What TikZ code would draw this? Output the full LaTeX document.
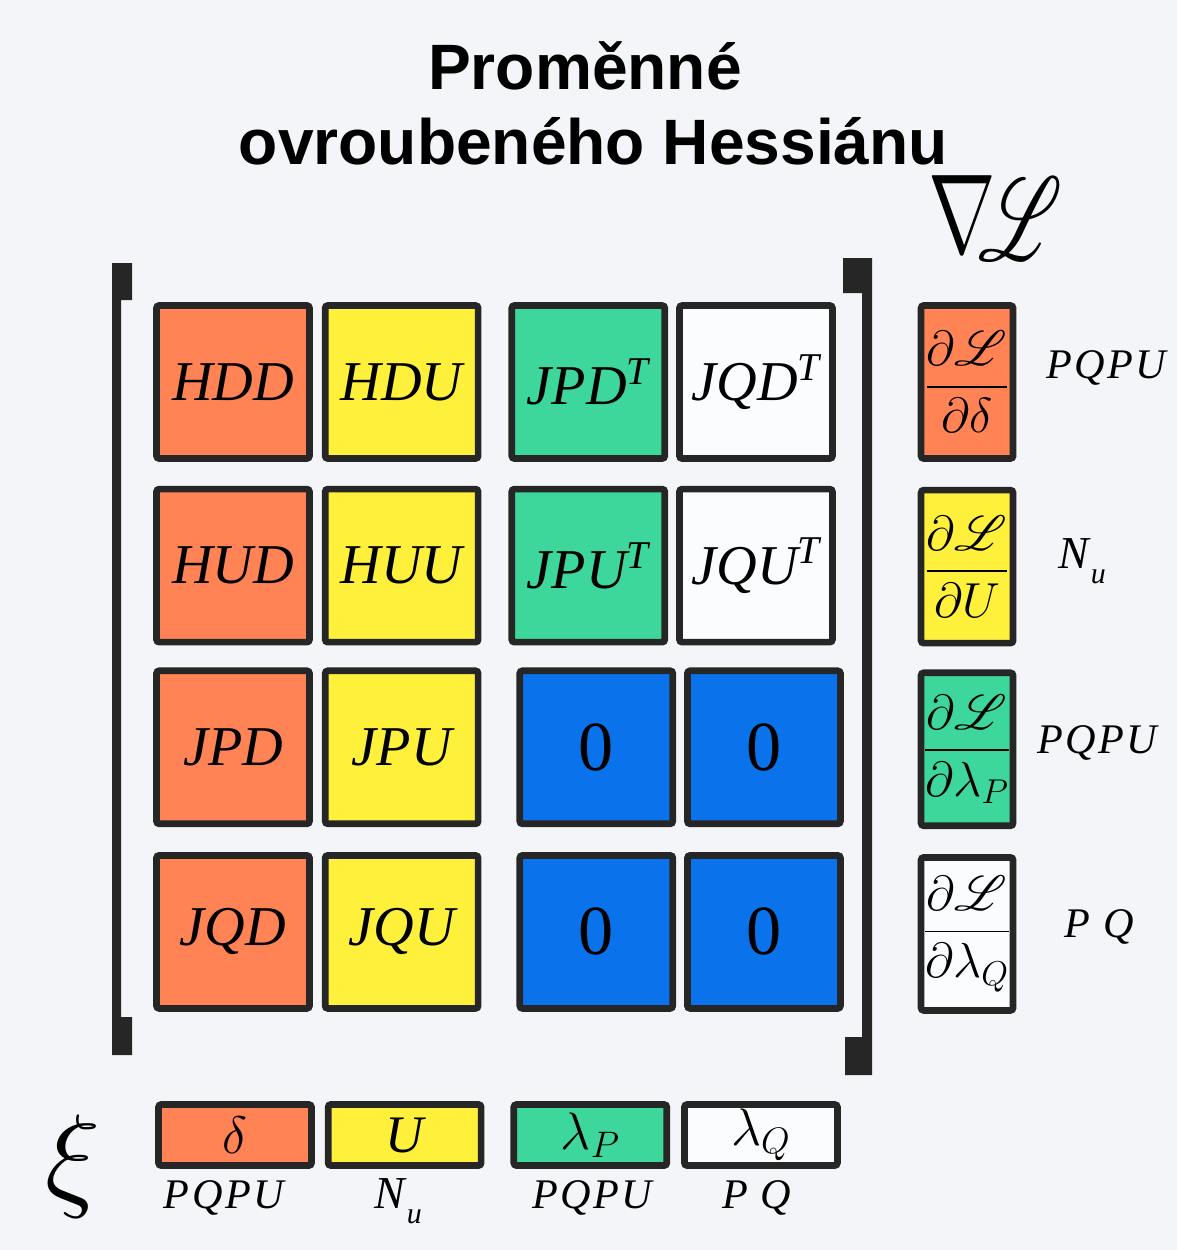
\RequirePackage{fix-cm}
\documentclass[tikz,border=0pt]{standalone}
\usepackage{amsmath}
\usepackage{fontspec}
\setmainfont{Liberation Serif}
\setsansfont{Liberation Sans}
\usepackage{mathrsfs}
\DeclareFontFamily{U}{rsfs}{\skewchar\font127 }
\DeclareFontShape{U}{rsfs}{m}{n}{<-> rsfs10}{}
\usepackage{graphicx}
\usetikzlibrary{positioning}
\usepackage{xcolor}
\definecolor{oranz}{HTML}{FF8354}
\definecolor{zluta}{HTML}{FFF03C}
\definecolor{zelena}{HTML}{3DD69B}
\definecolor{modra}{HTML}{0A73EC}
\definecolor{bila}{HTML}{FBFCFD}
\definecolor{ram}{HTML}{262626}
\definecolor{papir}{HTML}{F3F5F8}
\newcommand{\transp}{\textsuperscript{T}}
\newcommand{\Nsub}{{\fontsize{26}{28}\selectfont N}\kern0.05em\raisebox{-9pt}{\fontsize{17}{17}\selectfont u}}
\newcommand{\PQPU}{P\kern0.06em Q\kern0.06em P\kern0.06em U}

\begin{document}
\begin{tikzpicture}[x=0.02cm,y=-0.02cm,
    blok/.style={draw=ram,line width=3.8pt,rounded corners=1.5pt,inner sep=0pt,minimum width=3.06cm,minimum height=3.06cm,font=\fontsize{32}{36}\selectfont\itshape},
    nula/.style={blok,fill=modra,font=\fontsize{40}{44}\selectfont},
    grad/.style={draw=ram,line width=3.8pt,rounded corners=1.5pt,inner sep=0pt,minimum width=1.84cm,minimum height=3.06cm,font=\fontsize{28}{32}\selectfont},
    prom/.style={draw=ram,line width=3.8pt,rounded corners=1.5pt,inner sep=0pt,minimum width=3.06cm,minimum height=1.22cm,font=\fontsize{30}{32}\selectfont},
    popis/.style={font=\fontsize{24}{26}\selectfont\itshape,anchor=base}]
      \fill[papir] (0,0) rectangle (1177,1250);
      \useasboundingbox (0,0) rectangle (1177,1250);

      % nadpis
      \node[font=\sffamily\bfseries\fontsize{36.5}{40}\selectfont,anchor=base] (nadpis1) at (585,90) {Proměnné};
      \node[font=\sffamily\bfseries\fontsize{36.5}{40}\selectfont,anchor=base] (nadpis2) at (593.5,165) {ovroubeného Hessiánu};

      % zavorky
      \fill[ram] (112,263) -- (132,263) -- (132,300) -- (121,300) -- (121,1017) -- (132,1017) -- (132,1055) -- (112,1055) -- cycle;
      \fill[ram] (872,258) -- (843,258) -- (843,293) -- (862,293) -- (862,1037) -- (845,1037) -- (845,1075) -- (872,1075) -- cycle;

      % ovroubeny Hessian
      \node[blok,fill=oranz] (HDD) at (233,382) {HDD};
      \node[blok,fill=zluta,right=0.18cm of HDD] (HDU) {HDU};
      \node[blok,fill=zelena,right=0.54cm of HDU] (JPDT) {JPD\transp};
      \node[blok,fill=bila,right=0.16cm of JPDT] (JQDT) {JQD\transp};

      \node[blok,fill=oranz,below=0.48cm of HDD] (HUD) {HUD};
      \node[blok,fill=zluta,right=0.18cm of HUD] (HUU) {HUU};
      \node[blok,fill=zelena,right=0.54cm of HUU] (JPUT) {JPU\transp};
      \node[blok,fill=bila,right=0.16cm of JPUT] (JQUT) {JQU\transp};

      \node[blok,fill=oranz,below=0.44cm of HUD] (JPD) {JPD};
      \node[blok,fill=zluta,right=0.18cm of JPD] (JPU) {JPU};
      \node[nula,right=0.7cm of JPU] (N33) {0};
      \node[nula,right=0.16cm of N33] (N34) {0};

      \node[blok,fill=oranz,below=0.5cm of JPD] (JQD) {JQD};
      \node[blok,fill=zluta,right=0.18cm of JQD] (JQU) {JQU};
      \node[nula,right=0.7cm of JQU] (N43) {0};
      \node[nula,right=0.16cm of N43] (N44) {0};

      % gradient
      \node[anchor=base west,inner sep=0pt] (nabla) at (928,253) {\fontsize{64}{64}\selectfont$\scalebox{0.72}[1]{$\nabla$}\kern-10pt\raisebox{-4pt}{\scalebox{0.7}[1.05]{$\mathscr{L}$}}$};
      \node[grad,fill=oranz,right=1.64cm of JQDT] (gD) {$\dfrac{\partial\mathscr{L}}{\partial\delta}$};
      \node[grad,fill=zluta,below=0.5cm of gD] (gU) {$\dfrac{\partial\mathscr{L}}{\partial U}$};
      \node[grad,fill=zelena,below=0.46cm of gU] (gP) {$\dfrac{\partial\mathscr{L}}{\partial\lambda_P}$};
      \node[grad,fill=bila,below=0.5cm of gP] (gQ) {$\dfrac{\partial\mathscr{L}}{\partial\lambda_Q}$};
      \node[popis] (lD) at (1106,378) {\PQPU};
      \node[popis] (lU) at (1082,568) {\Nsub};
      \node[popis] (lP) at (1097,753) {\PQPU};
      \node[popis] (lQ) at (1099,937) {P\kern0.3em Q};

      % promenne
      \node (ksi) at (73,1166) {\fontsize{66}{66}\selectfont$\xi$};
      \node[prom,fill=oranz] (xD) at (235,1135) {$\delta$};
      \node[prom,fill=zluta,right=0.2cm of xD] (xU) {\itshape U};
      \node[prom,fill=zelena,right=0.52cm of xU] (xP) {$\lambda_P$};
      \node[prom,fill=bila,right=0.22cm of xP] (xQ) {$\lambda_Q$};
      \node[popis] (pD) at (224,1208) {\PQPU};
      \node[popis] (pU) at (398,1208) {\Nsub};
      \node[popis] (pP) at (592,1208) {\PQPU};
      \node[popis] (pQ) at (757,1208) {P\kern0.3em Q};
    \end{tikzpicture}
\end{document}
